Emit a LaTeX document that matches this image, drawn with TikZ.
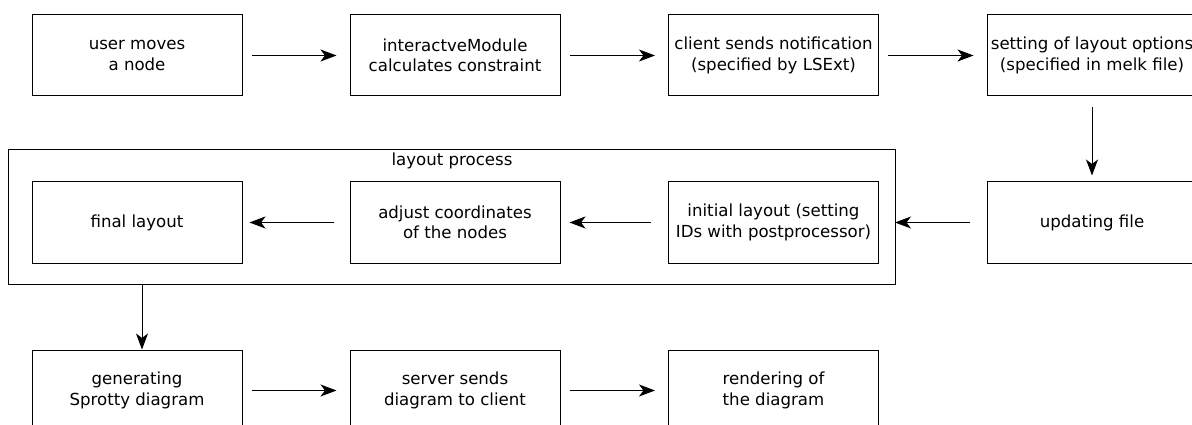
\documentclass[tikz,border=0pt]{standalone}
\usepackage{fontspec}
\setmainfont{DejaVu Sans}
\usetikzlibrary{arrows.meta}
\begin{document}
\begin{tikzpicture}[x=1pt,y=-1pt,
  box/.style={draw=black, line width=1pt, minimum width=210pt, minimum height=81pt, align=center, inner sep=0pt, font=\fontsize{16.6}{20.5}\selectfont},
  arr/.style={draw=black, line width=1pt, -{Stealth[length=16pt,width=12pt,inset=4.5pt]}},
  lbl/.style={font=\fontsize{16.6}{20.5}\selectfont, inner sep=0pt}
]
\useasboundingbox (0,0) rectangle (1192,425);
\clip (0,0) rectangle (1192,425);
% row 1
\node[box] (u) at (137,55.5) {user moves\\a node};
\node[box] (i) at (455,55.5) {interactveModule\\calculates constraint};
\node[box] (c) at (773.5,55.5) {client sends notification\\(specified by LSExt)};
\node[box] (s) at (1092,55.5) {setting of layout options\\(specified in melk file)};
% row 2
\node[draw=black, line width=1pt, minimum width=887pt, minimum height=134pt, inner sep=0pt] (lp) at (451.5,217) {};
\node[lbl] (lpl) at (452,161) {layout process};
\node[box] (f) at (137,222.5) {final layout};
\node[box] (a) at (455,222.5) {adjust coordinates\\of the nodes};
\node[box] (il) at (773.5,222.5) {initial layout (setting\\IDs with postprocessor)};
\node[box] (up) at (1092,222.5) {updating file};
% row 3
\node[box] (g) at (137,390.5) {generating\\Sprotty diagram};
\node[box] (sv) at (455,390.5) {server sends\\diagram to client};
\node[box] (r) at (773.5,390.5) {rendering of\\the diagram};
% connectors
\draw[arr, shorten <=9pt, shorten >=13pt] (u) -- (i);
\draw[arr, shorten <=9pt, shorten >=13pt] (i) -- (c);
\draw[arr, shorten <=9pt, shorten >=13pt] (c) -- (s);
\draw[arr, shorten <=11pt, shorten >=6pt] (s) -- (up);
\draw[arr, shorten <=17pt, shorten >=16pt] (up) -- (il);
\draw[arr, shorten <=17pt, shorten >=9pt] (il) -- (a);
\draw[arr, shorten <=16pt, shorten >=7pt] (a) -- (f);
\coordinate (lpo) at (142,284);
\draw[arr] (lpo) -- (g.north -| lpo);
\draw[arr, shorten <=9pt, shorten >=13pt] (g) -- (sv);
\draw[arr, shorten <=9pt, shorten >=13pt] (sv) -- (r);
\end{tikzpicture}
\end{document}
